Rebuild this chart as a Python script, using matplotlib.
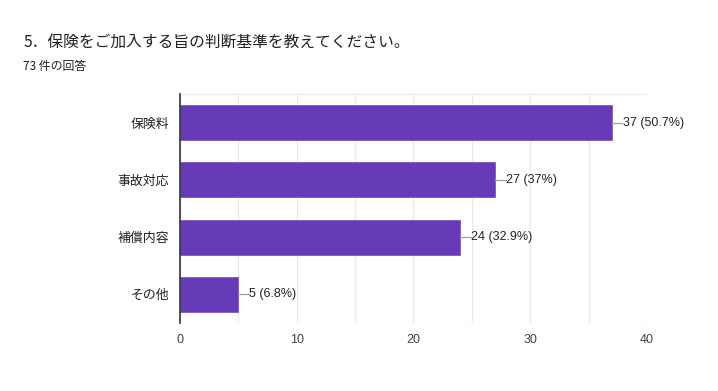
import matplotlib.pyplot as plt
from matplotlib.ticker import MultipleLocator

plt.rcParams['font.family'] = ['Noto Sans CJK JP', 'DejaVu Sans']

categories = ['保険料', '事故対応', '補償内容', 'その他']
counts = [37, 27, 24, 5]
labels = ['37 (50.7%)', '27 (37%)', '24 (32.9%)', '5 (6.8%)']
x_ticks = [0, 10, 20, 30, 40]

fig = plt.figure(figsize=(7.18, 3.91), dpi=100)
ax = fig.add_axes([0.2507, 0.174, 0.6504, 0.5856])

ypos = list(range(len(categories)))
ax.barh(ypos, counts, height=0.61, color='#673ab7', edgecolor='#7e57c2', linewidth=0.6, zorder=3)

for y, v, lab in zip(ypos, counts, labels):
    ax.plot([v, v + 0.9], [y, y], color='#9e9e9e', lw=0.9, zorder=3)
    ax.text(v + 0.95, y, lab, va='center', ha='left', fontsize=9, color='#222222',
            family=['Liberation Sans', 'DejaVu Sans'])

ax.set_xlim(0, 40)
ax.set_ylim(3.5, -0.5)
ax.set_yticks(ypos)
ax.set_yticklabels(categories, fontsize=9.3, color='#222222')
ax.set_xticks(x_ticks)
ax.set_xticklabels([str(t) for t in x_ticks], fontsize=9, color='#444444',
                   family=['Liberation Sans', 'DejaVu Sans'])
ax.xaxis.set_minor_locator(MultipleLocator(5))
ax.grid(axis='x', which='both', color='#ebebeb', lw=1, zorder=0)
ax.tick_params(axis='both', which='both', length=0)
ax.tick_params(axis='x', pad=8)
ax.tick_params(axis='y', pad=8)

for s in ['top', 'right', 'bottom']:
    ax.spines[s].set_visible(False)
ax.spines['left'].set_color('#333333')
ax.spines['left'].set_linewidth(1.2)
ax.spines['left'].set_zorder(4)

# top and bottom light borders like the grid
ax.axhline(-0.5, color='#ebebeb', lw=1, zorder=0)
ax.axhline(3.5, color='#ebebeb', lw=1, zorder=0)

fig.text(0.033, 0.891, '5．保険をご加入する旨の判断基準を教えてください。', fontsize=11.3,
         color='#202124', va='center', ha='left')
fig.text(0.032, 0.831, '73 件の回答', fontsize=8.6, color='#202124', va='center', ha='left')

fig.savefig('out.png', dpi=100)
